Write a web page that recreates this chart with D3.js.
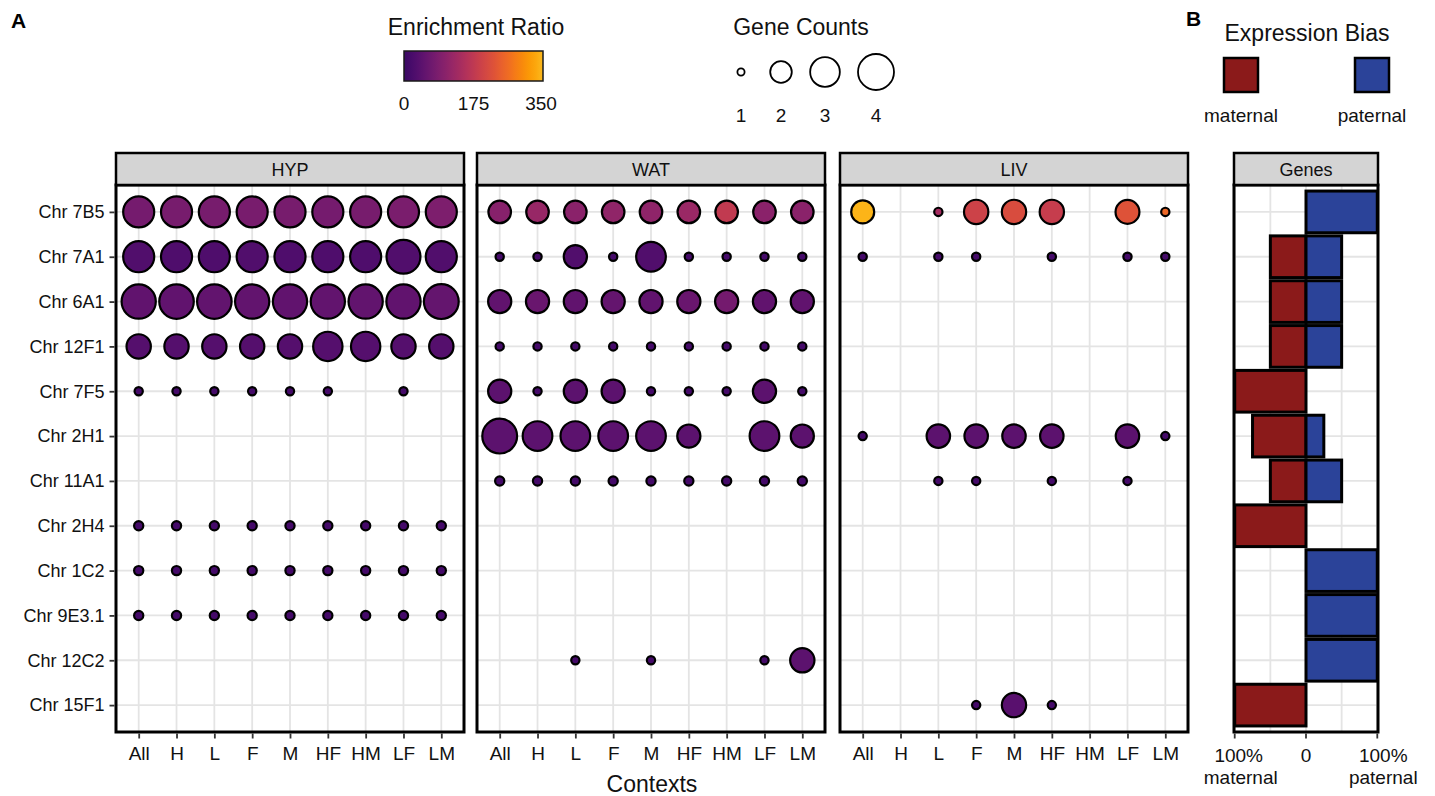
<!DOCTYPE html>
<html>
<head>
<meta charset="utf-8">
<script src="https://cdn.jsdelivr.net/npm/d3@7"></script>
<style>
  html, body { margin: 0; padding: 0; background: #fff; }
  svg { display: block; font-family: "Liberation Sans", Arial, sans-serif; }
</style>
</head>
<body>
<script>
// ---- data ----
const contexts = ["All", "H", "L", "F", "M", "HF", "HM", "LF", "LM"];
const chromosomes = ["Chr 7B5", "Chr 7A1", "Chr 6A1", "Chr 12F1", "Chr 7F5", "Chr 2H1",
  "Chr 11A1", "Chr 2H4", "Chr 1C2", "Chr 9E3.1", "Chr 12C2", "Chr 15F1"];
const tissues = ["HYP", "WAT", "LIV"];

// enrichment ratio per chromosome (rows) x context (columns); null = not enriched
const hypRatio = [
  [78, 80, 80, 82, 80, 78, 80, 84, 88],
  [30, 28, 28, 30, 28, 28, 28, 30, 30],
  [50, 50, 52, 52, 50, 52, 52, 50, 55],
  [37, 37, 37, 37, 37, 37, 37, 37, 37],
  [15, 15, 15, 15, 15, 15, null, 15, null],
  [null, null, null, null, null, null, null, null, null],
  [null, null, null, null, null, null, null, null, null],
  [15, 15, 15, 15, 15, 15, 15, 15, 15],
  [15, 15, 15, 15, 15, 15, 15, 15, 15],
  [15, 15, 15, 15, 15, 15, 15, 15, 15],
  [null, null, null, null, null, null, null, null, null],
  [null, null, null, null, null, null, null, null, null]
];
const hypCount = [
  [3.2, 3.2, 3.2, 3.2, 3.2, 3.2, 3.2, 3.2, 3.2],
  [3.2, 3.2, 3.2, 3.2, 3.2, 3.2, 3.2, 3.65, 3.2],
  [3.7, 3.75, 3.75, 3.7, 3.7, 3.7, 3.7, 3.7, 3.8],
  [2.3, 2.3, 2.3, 2.3, 2.3, 2.95, 2.95, 2.3, 2.3],
  [1.04, 1.04, 1.04, 1.04, 1.04, 1.04, null, 1.04, null],
  [null, null, null, null, null, null, null, null, null],
  [null, null, null, null, null, null, null, null, null],
  [1.08, 1.08, 1.08, 1.08, 1.08, 1.08, 1.08, 1.08, 1.08],
  [1.08, 1.08, 1.08, 1.08, 1.08, 1.08, 1.08, 1.08, 1.08],
  [1.08, 1.08, 1.08, 1.08, 1.08, 1.08, 1.08, 1.08, 1.08],
  [null, null, null, null, null, null, null, null, null],
  [null, null, null, null, null, null, null, null, null]
];
const watRatio = [
  [100, 122, 105, 112, 110, 125, 180, 105, 105],
  [15, 15, 30, 15, 30, 15, 15, 15, 15],
  [50, 60, 50, 55, 50, 60, 75, 50, 50],
  [15, 15, 15, 15, 15, 15, 15, 15, 15],
  [45, 15, 45, 45, 15, 15, 15, 45, 15],
  [45, 45, 45, 45, 45, 45, null, 45, 45],
  [15, 15, 15, 15, 15, 15, 15, 15, 15],
  [null, null, null, null, null, null, null, null, null],
  [null, null, null, null, null, null, null, null, null],
  [null, null, null, null, null, null, null, null, null],
  [null, null, 15, null, 15, null, null, 15, 45],
  [null, null, null, null, null, null, null, null, null]
];
const watCount = [
  [2.1, 2.1, 2.1, 2.1, 2.1, 2.1, 2.1, 2.1, 2.1],
  [1.04, 1.04, 2.17, 1.04, 3.0, 1.04, 1.04, 1.04, 1.04],
  [2.17, 2.17, 2.17, 2.17, 2.17, 2.17, 2.17, 2.17, 2.17],
  [1.04, 1.04, 1.04, 1.04, 1.04, 1.04, 1.04, 1.04, 1.04],
  [2.17, 1.04, 2.17, 2.17, 1.04, 1.04, 1.04, 2.17, 1.04],
  [3.8, 3.0, 3.0, 3.0, 3.0, 2.17, null, 3.0, 2.17],
  [1.08, 1.08, 1.08, 1.08, 1.08, 1.08, 1.08, 1.08, 1.08],
  [null, null, null, null, null, null, null, null, null],
  [null, null, null, null, null, null, null, null, null],
  [null, null, null, null, null, null, null, null, null],
  [null, null, 1.04, null, 1.04, null, null, 1.04, 2.3],
  [null, null, null, null, null, null, null, null, null]
];
const livRatio = [
  [345, null, 140, 195, 215, 185, null, 225, 255],
  [15, null, 15, 15, null, 15, null, 15, 15],
  [null, null, null, null, null, null, null, null, null],
  [null, null, null, null, null, null, null, null, null],
  [null, null, null, null, null, null, null, null, null],
  [15, null, 45, 45, 45, 45, null, 45, 15],
  [null, null, 15, 15, null, 15, null, 15, null],
  [null, null, null, null, null, null, null, null, null],
  [null, null, null, null, null, null, null, null, null],
  [null, null, null, null, null, null, null, null, null],
  [null, null, null, null, null, null, null, null, null],
  [null, null, null, 15, 40, 15, null, null, null]
];
const livCount = [
  [2.15, null, 1.04, 2.3, 2.3, 2.3, null, 2.25, 1.04],
  [1.04, null, 1.04, 1.04, null, 1.04, null, 1.04, 1.04],
  [null, null, null, null, null, null, null, null, null],
  [null, null, null, null, null, null, null, null, null],
  [null, null, null, null, null, null, null, null, null],
  [1.04, null, 2.2, 2.2, 2.2, 2.2, null, 2.2, 1.04],
  [null, null, 1.04, 1.04, null, 1.04, null, 1.04, null],
  [null, null, null, null, null, null, null, null, null],
  [null, null, null, null, null, null, null, null, null],
  [null, null, null, null, null, null, null, null, null],
  [null, null, null, null, null, null, null, null, null],
  [null, null, null, 1.04, 2.3, 1.04, null, null, null]
];

// share of imprinted genes per locus by parental bias (percent)
const maternalPct = [0, 50, 50, 50, 100, 75, 50, 100, 0, 0, 0, 100];
const paternalPct = [100, 50, 50, 50, 0, 25, 50, 0, 100, 100, 100, 0];

const ratioTicks = [0, 175, 350];
const countTicks = [1, 2, 3, 4];
const biasLabels = ["maternal", "paternal"];
const biasColors = ["#8B1A1A", "#2B4399"];

// ---- scales ----
const W = 1435, H = 796;
const stripTop = 153, panelTop = 185, panelBottom = 732;
const facetX = [[116, 464], [477, 825], [840, 1188]];
const genesX = [1234, 1378];
const ink = "#111";

const svg = d3.select("body").append("svg").attr("width", W).attr("height", H);

const y = d3.scalePoint().domain(chromosomes).range([panelTop, panelBottom]).padding(0.6);
const radius = d3.scaleRadial().domain([1, 4]).range([3.6, 18]);
const color = d3.scaleSequential(t => d3.interpolateInferno(0.18 + 0.66 * t)).domain([0, 350]);

const gridColor = "#e4e4e4";

function strip(x0, x1, label) {
  svg.append("rect").attr("x", x0).attr("y", stripTop).attr("width", x1 - x0)
    .attr("height", panelTop - stripTop).attr("fill", "#d4d4d4")
    .attr("stroke", "#000").attr("stroke-width", 2.5);
  svg.append("text").attr("x", (x0 + x1) / 2).attr("y", stripTop + 23)
    .attr("text-anchor", "middle").attr("font-size", 18).attr("fill", ink).text(label);
}

// ---- dot-plot facets ----
const ratios = [hypRatio, watRatio, livRatio];
const counts = [hypCount, watCount, livCount];

tissues.forEach((tissue, k) => {
  const [x0, x1] = facetX[k];
  const x = d3.scalePoint().domain(contexts).range([x0, x1]).padding(0.6);
  const g = svg.append("g");

  g.append("rect").attr("x", x0).attr("y", panelTop).attr("width", x1 - x0)
    .attr("height", panelBottom - panelTop).attr("fill", "#fff");

  g.selectAll("line.vg").data(contexts).join("line")
    .attr("x1", d => x(d)).attr("x2", d => x(d))
    .attr("y1", panelTop).attr("y2", panelBottom)
    .attr("stroke", gridColor).attr("stroke-width", 1.8);
  g.selectAll("line.hg").data(chromosomes).join("line")
    .attr("x1", x0).attr("x2", x1)
    .attr("y1", d => y(d)).attr("y2", d => y(d))
    .attr("stroke", gridColor).attr("stroke-width", 1.8);

  const pts = [];
  chromosomes.forEach((chr, i) => {
    contexts.forEach((ctx, j) => {
      const r = ratios[k][i][j], c = counts[k][i][j];
      if (r != null && c != null) pts.push({ chr, ctx, r, c });
    });
  });
  g.selectAll("circle").data(pts).join("circle")
    .attr("cx", d => x(d.ctx)).attr("cy", d => y(d.chr))
    .attr("r", d => radius(d.c))
    .attr("fill", d => color(d.r))
    .attr("stroke", "#000").attr("stroke-width", 2.2);

  g.append("rect").attr("x", x0).attr("y", panelTop).attr("width", x1 - x0)
    .attr("height", panelBottom - panelTop).attr("fill", "none")
    .attr("stroke", "#000").attr("stroke-width", 3);

  const xAxis = g.append("g").attr("transform", `translate(0,${panelBottom + 1.5})`)
    .call(d3.axisBottom(x).tickSize(5).tickPadding(8));
  xAxis.select(".domain").remove();
  xAxis.selectAll("line").attr("stroke", "#333").attr("stroke-width", 1.8);
  xAxis.selectAll("text").attr("font-size", 19).attr("fill", ink)
    .attr("font-family", "Liberation Sans, Arial, sans-serif");

  strip(x0, x1, tissue);
});

// y axis on the first facet
const yAxis = svg.append("g").attr("transform", `translate(${facetX[0][0] - 1.5},0)`)
  .call(d3.axisLeft(y).tickSize(5).tickPadding(5));
yAxis.select(".domain").remove();
yAxis.selectAll("line").attr("stroke", "#333").attr("stroke-width", 1.8);
yAxis.selectAll("text").attr("font-size", 18).attr("fill", ink)
  .attr("font-family", "Liberation Sans, Arial, sans-serif");

svg.append("text").attr("x", (facetX[0][0] + facetX[2][1]) / 2).attr("y", 792)
  .attr("text-anchor", "middle").attr("font-size", 23).attr("fill", ink).text("Contexts");

// ---- genes panel (parental bias) ----
{
  const [x0, x1] = genesX;
  const gx = d3.scaleLinear().domain([-101, 101]).range([x0, x1]);
  const band = y.step() * 0.93;
  const g = svg.append("g");
  g.append("rect").attr("x", x0).attr("y", panelTop).attr("width", x1 - x0)
    .attr("height", panelBottom - panelTop).attr("fill", "#fff");
  g.selectAll("line.vg").data([-100, -50, 0, 50, 100]).join("line")
    .attr("x1", d => gx(d)).attr("x2", d => gx(d))
    .attr("y1", panelTop).attr("y2", panelBottom)
    .attr("stroke", gridColor).attr("stroke-width", 1.8);
  g.selectAll("line.hg").data(chromosomes).join("line")
    .attr("x1", x0).attr("x2", x1)
    .attr("y1", d => y(d)).attr("y2", d => y(d))
    .attr("stroke", gridColor).attr("stroke-width", 1.8);

  const bars = [];
  chromosomes.forEach((chr, i) => {
    if (maternalPct[i] > 0) bars.push({ chr, a: -maternalPct[i], b: 0, fill: biasColors[0] });
    if (paternalPct[i] > 0) bars.push({ chr, a: 0, b: paternalPct[i], fill: biasColors[1] });
  });
  g.selectAll("rect.bar").data(bars).join("rect").attr("class", "bar")
    .attr("x", d => gx(d.a)).attr("width", d => gx(d.b) - gx(d.a))
    .attr("y", d => y(d.chr) - band / 2).attr("height", band)
    .attr("fill", d => d.fill).attr("stroke", "#000").attr("stroke-width", 3);

  g.append("rect").attr("x", x0).attr("y", panelTop).attr("width", x1 - x0)
    .attr("height", panelBottom - panelTop).attr("fill", "none")
    .attr("stroke", "#000").attr("stroke-width", 3);

  const ticks = [[-100, "100%", "maternal"], [0, "0", ""], [100, "100%", "paternal"]];
  const ax = g.append("g");
  ax.selectAll("line").data(ticks).join("line")
    .attr("x1", d => gx(d[0])).attr("x2", d => gx(d[0]))
    .attr("y1", panelBottom + 1.5).attr("y2", panelBottom + 6.5)
    .attr("stroke", "#333").attr("stroke-width", 1.8);
  const t = ax.selectAll("text").data(ticks).join("text")
    .attr("x", d => gx(d[0])).attr("y", panelBottom + 30)
    .attr("text-anchor", "middle").attr("font-size", 19).attr("fill", ink);
  t.append("tspan").attr("x", d => gx(d[0]) + (d[0] < 0 ? 4 : d[0] > 0 ? 6 : 0)).text(d => d[1]);
  t.append("tspan").attr("x", d => gx(d[0]) + (d[0] < 0 ? 6 : d[0] > 0 ? 6 : 0)).attr("dy", 22).text(d => d[2]);

  strip(x0, x1, "Genes");
}

// ---- panel letters ----
svg.append("text").attr("x", 11).attr("y", 28).attr("font-size", 21)
  .attr("font-weight", "bold").text("A");
svg.append("text").attr("x", 1186).attr("y", 26).attr("font-size", 21)
  .attr("font-weight", "bold").text("B");

// ---- colour legend ----
{
  const lx = d3.scaleLinear().domain([0, 350]).range([404, 543]);
  svg.append("text").attr("x", 476).attr("y", 35).attr("text-anchor", "middle")
    .attr("font-size", 23).attr("fill", ink).text("Enrichment Ratio");
  const grad = svg.append("defs").append("linearGradient").attr("id", "ratioGrad");
  d3.range(0, 1.0001, 0.05).forEach(s => {
    grad.append("stop").attr("offset", s).attr("stop-color", color(s * 350));
  });
  svg.append("rect").attr("x", lx(0)).attr("y", 51).attr("width", lx(350) - lx(0))
    .attr("height", 30).attr("fill", "url(#ratioGrad)")
    .attr("stroke", "#1a1a1a").attr("stroke-width", 1.5);
  svg.selectAll("text.rt").data(ratioTicks).join("text").attr("class", "rt")
    .attr("x", d => lx(d) + (d === 350 ? -2 : 0)).attr("y", 110).attr("text-anchor", "middle")
    .attr("font-size", 19).attr("fill", ink).text(d => d);
}

// ---- size legend ----
{
  const cx = [741, 781, 825, 876];
  svg.append("text").attr("x", 801).attr("y", 35).attr("text-anchor", "middle")
    .attr("font-size", 23).attr("fill", ink).text("Gene Counts");
  svg.selectAll("circle.sz").data(countTicks).join("circle").attr("class", "sz")
    .attr("cx", (d, i) => cx[i]).attr("cy", 72).attr("r", d => radius(d))
    .attr("fill", "#fff").attr("stroke", "#000").attr("stroke-width", 1.8);
  svg.selectAll("text.sz").data(countTicks).join("text").attr("class", "sz")
    .attr("x", (d, i) => cx[i]).attr("y", 122).attr("text-anchor", "middle")
    .attr("font-size", 19).attr("fill", ink).text(d => d);
}

// ---- bias legend ----
{
  const cx = [1241, 1372];
  svg.append("text").attr("x", 1307).attr("y", 41).attr("text-anchor", "middle")
    .attr("font-size", 23).attr("fill", ink).text("Expression Bias");
  svg.selectAll("rect.bias").data(biasLabels).join("rect").attr("class", "bias")
    .attr("x", (d, i) => cx[i] - 17).attr("y", 58).attr("width", 34).attr("height", 34)
    .attr("fill", (d, i) => biasColors[i]).attr("stroke", "#000").attr("stroke-width", 2.5);
  svg.selectAll("text.bias").data(biasLabels).join("text").attr("class", "bias")
    .attr("x", (d, i) => cx[i]).attr("y", 122).attr("text-anchor", "middle")
    .attr("font-size", 19).attr("fill", ink).text(d => d);
}
</script>
</body>
</html>
